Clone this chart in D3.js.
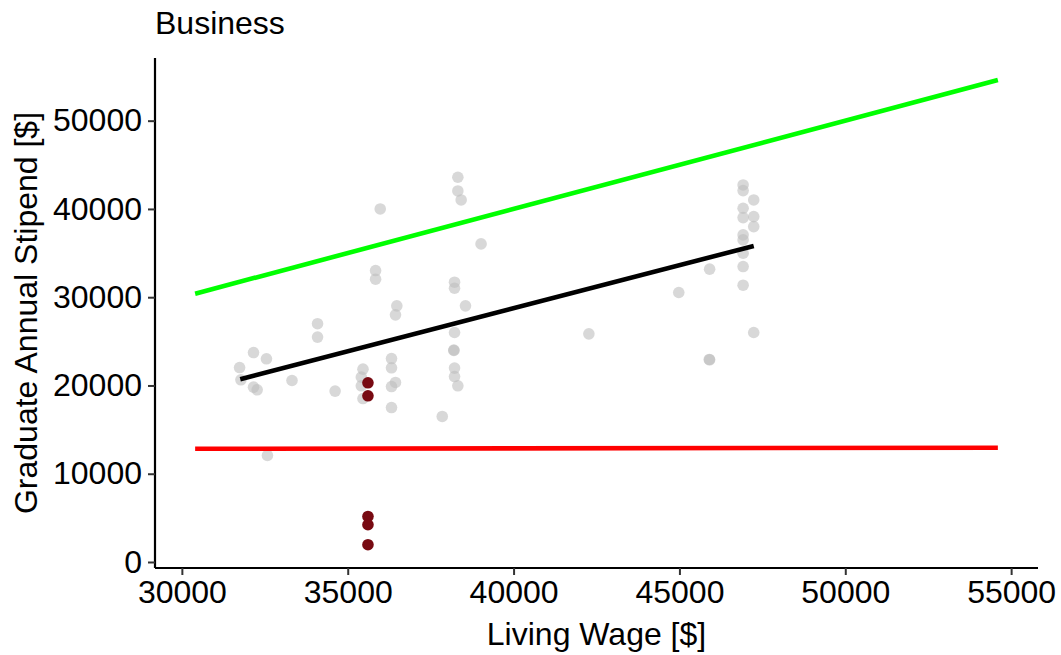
<!DOCTYPE html>
<html>
<head>
<meta charset="utf-8">
<script src="https://cdn.jsdelivr.net/npm/d3@7"></script>
<style>
  html, body { margin: 0; padding: 0; background: #fff; }
  svg { display: block; font-family: "Liberation Sans", Arial, sans-serif; }
</style>
</head>
<body>
<svg id="chart" width="1061" height="655"></svg>
<script>
// ---- data ----
const title = "Business";
const xLabel = "Living Wage [$]";
const yLabel = "Graduate Annual Stipend [$]";
const xTicks = [30000, 35000, 40000, 45000, 50000, 55000];
const yTicks = [0, 10000, 20000, 30000, 40000, 50000];

// grey points: living wage, stipend
const grayWage = [31740, 31780, 32160, 32550, 32160, 32270, 33320, 32580, 34090, 34090,
  34620, 35840, 35840, 35980, 36480, 36440, 35460, 35410, 35410, 35460,
  36320, 36320, 36440, 36320, 36320, 37850, 38320, 38320, 38420, 39020,
  38220, 38220, 38550, 38220, 38200, 38200, 38220, 38220, 38320, 44980,
  45910, 45910, 45900, 42270, 46920, 46920, 47240, 46920, 47240, 46920,
  47240, 46920, 46920, 46920, 46920, 46920, 47240];
const grayStipend = [22030, 20640, 23730, 23020, 19810, 19510, 20560, 12070, 27000, 25480,
  19360, 33020, 32040, 40000, 29020, 28000, 21850, 20950, 19960, 18520,
  23050, 22000, 20340, 19880, 17500, 16490, 43590, 42040, 41020, 36040,
  31700, 31020, 29020, 26000, 23960, 24020, 21970, 21010, 19960, 30530,
  33180, 22910, 22950, 25850, 42720, 42080, 41020, 40080, 39130, 39020,
  38000, 37060, 36490, 34990, 33470, 31360, 26000];

// highlighted points (dark red)
const redWage = [35610, 35610, 35610, 35610, 35610];
const redStipend = [20300, 18830, 5160, 4220, 1960];

// reference lines
const lineX = [30400, 54600];
const greenY = [30400, 54600];   // stipend = living wage
const redLineY = [12830, 12940];
const fitX = [31760, 47240];
const fitY = [20700, 35810];

// ---- layout ----
const svg = d3.select("#chart");
const mLeft = 155, mRight = 1038, mTop = 58, mBottom = 568;
const x = d3.scaleLinear().domain([29190, 55810]).range([mLeft, mRight]);
const y = d3.scaleLinear().domain([-680, 57100]).range([mBottom, mTop]);

const fs = 32;

// points
const gray = grayWage.map((w, i) => ({w, s: grayStipend[i]}));
svg.append("g").selectAll("circle").data(gray).join("circle")
  .attr("cx", d => x(d.w)).attr("cy", d => y(d.s)).attr("r", 5.8)
  .attr("fill", "#bebebe").attr("fill-opacity", 0.6);

const reds = redWage.map((w, i) => ({w, s: redStipend[i]}));
svg.append("g").selectAll("circle").data(reds).join("circle")
  .attr("cx", d => x(d.w)).attr("cy", d => y(d.s)).attr("r", 5.8)
  .attr("fill", "#780a12");

// lines
const line = d3.line().x(d => x(d[0])).y(d => y(d[1]));
svg.append("path").datum(lineX.map((v, i) => [v, greenY[i]])).attr("d", line)
  .attr("stroke", "#00ff00").attr("stroke-width", 4.6).attr("fill", "none");
svg.append("path").datum(lineX.map((v, i) => [v, redLineY[i]])).attr("d", line)
  .attr("stroke", "#ff0000").attr("stroke-width", 4.6).attr("fill", "none");
svg.append("path").datum(fitX.map((v, i) => [v, fitY[i]])).attr("d", line)
  .attr("stroke", "#000000").attr("stroke-width", 4.6).attr("fill", "none");

// axes
const xAxis = svg.append("g").attr("transform", `translate(0,${mBottom})`)
  .call(d3.axisBottom(x).tickValues(xTicks).tickFormat(d3.format("d")).tickSize(7).tickPadding(5));
const yAxis = svg.append("g").attr("transform", `translate(${mLeft},0)`)
  .call(d3.axisLeft(y).tickValues(yTicks).tickFormat(d3.format("d")).tickSize(7).tickPadding(6));
[xAxis, yAxis].forEach(g => {
  g.select(".domain").attr("stroke", "#000").attr("stroke-width", 2.2);
  g.selectAll(".tick line").attr("stroke", "#333").attr("stroke-width", 2);
  g.selectAll(".tick text").attr("fill", "#000").style("font-size", fs + "px")
    .style("font-family", "'Liberation Sans', Arial, sans-serif");
});
xAxis.select(".domain").attr("d", `M${mLeft},0H${mRight}`);
yAxis.select(".domain").attr("d", `M0,${mBottom}V${mTop}`);

// titles
svg.append("text").attr("x", 155).attr("y", 34).text(title)
  .style("font-size", fs + "px").attr("fill", "#000");
svg.append("text").attr("x", (mLeft + mRight) / 2).attr("y", 645).attr("text-anchor", "middle")
  .text(xLabel).style("font-size", fs + "px").attr("fill", "#000");
svg.append("text").attr("transform", `translate(37,${(mTop + mBottom) / 2}) rotate(-90)`)
  .attr("text-anchor", "middle").text(yLabel).style("font-size", fs + "px").attr("fill", "#000");
</script>
</body>
</html>
